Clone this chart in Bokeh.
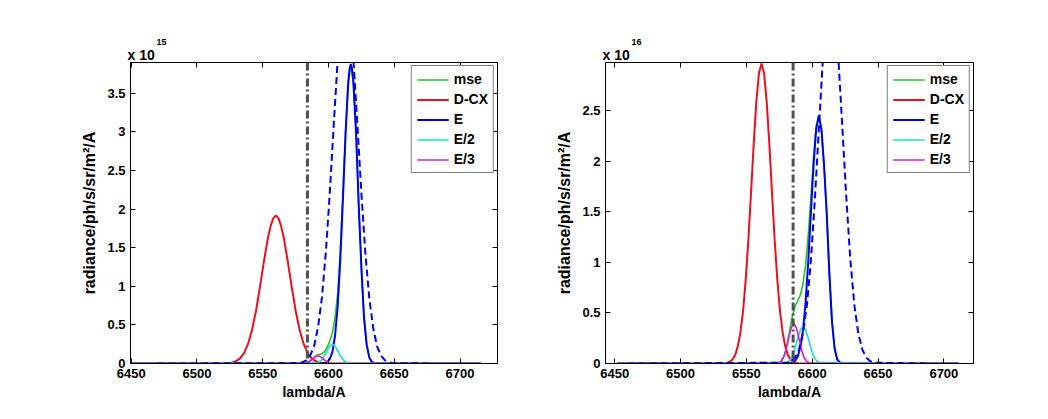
from bokeh.plotting import figure
from bokeh.models import Range1d, FixedTicker, LinearAxis, Legend, LegendItem, Span, Title
from bokeh.layouts import row
from bokeh.embed import file_html
from bokeh.resources import INLINE

# ---------------- data: left panel (x 10^15) ----------------
L_mse_lam = [6450, 6581, 6583, 6585, 6587, 6589, 6591, 6593, 6595, 6597, 6599, 6601, 6603, 6605,
             6607, 6609, 6611, 6613, 6615, 6617, 6619, 6621, 6623, 6625, 6627, 6629, 6631, 6633,
             6635, 6637, 6716]
L_mse = [0, 0.002, 0.008, 0.022, 0.046, 0.076, 0.104, 0.118, 0.127, 0.154, 0.208, 0.29, 0.40, 0.59,
         0.91, 1.45, 2.19, 3.00, 3.64, 3.88, 3.63, 2.98, 2.05, 1.25, 0.6, 0.25, 0.08, 0.02,
         0.005, 0.001, 0]
L_dcx_lam = [6450, 6521, 6524, 6527, 6530, 6533, 6536, 6539, 6542, 6545, 6548, 6551, 6554, 6556,
             6558, 6560, 6562, 6564, 6566, 6569, 6572, 6575, 6578, 6581, 6584, 6587, 6590, 6593,
             6596, 6599, 6716]
L_dcx = [0, 0.002, 0.005, 0.014, 0.032, 0.07, 0.14, 0.26, 0.44, 0.69, 1.00, 1.33, 1.63, 1.78,
         1.88, 1.92, 1.88, 1.78, 1.63, 1.33, 1.00, 0.69, 0.44, 0.26, 0.14, 0.07, 0.032, 0.014,
         0.005, 0.002, 0]
L_e_lam = [6450, 6595, 6597, 6599, 6601, 6603, 6605, 6607, 6609, 6611, 6613, 6615, 6616, 6617,
           6618, 6619, 6621, 6623, 6625, 6627, 6629, 6631, 6633, 6635, 6637, 6716]
L_e = [0, 0.001, 0.005, 0.018, 0.056, 0.15, 0.36, 0.74, 1.35, 2.14, 2.98, 3.63, 3.81, 3.88,
       3.81, 3.63, 2.98, 2.05, 1.25, 0.6, 0.25, 0.08, 0.02, 0.005, 0.001, 0]
L_e2_lam = [6450, 6591, 6593, 6595, 6597, 6599, 6601, 6603, 6605, 6607, 6609, 6611, 6613, 6615, 6716]
L_e2 = [0, 0.007, 0.021, 0.051, 0.103, 0.168, 0.226, 0.25, 0.226, 0.168, 0.103, 0.051, 0.021, 0.007, 0]
L_e3_lam = [6450, 6582, 6584, 6586, 6588, 6590, 6592, 6594, 6596, 6598, 6600, 6602, 6716]
L_e3 = [0, 0.004, 0.014, 0.032, 0.061, 0.088, 0.10, 0.088, 0.061, 0.032, 0.014, 0.004, 0]
L_tot_lam = [6470, 6577, 6580, 6583, 6586, 6589, 6592, 6595, 6598, 6601, 6604, 6607, 6610, 6613,
             6616, 6619, 6622, 6625, 6628, 6631, 6634, 6637, 6640, 6643, 6646, 6649, 6680]
L_tot = [0, 0.005, 0.015, 0.04, 0.10, 0.22, 0.46, 0.85, 1.44, 2.21, 3.09, 3.93, 4.54, 4.76,
         4.54, 3.93, 3.09, 2.21, 1.44, 0.85, 0.46, 0.22, 0.10, 0.04, 0.015, 0.005, 0]
L_ref = 6584.0

# ---------------- data: right panel (x 10^16) ----------------
R_mse_lam = [6452, 6575, 6577, 6579, 6581, 6583, 6585, 6587, 6589, 6591, 6593, 6595, 6597, 6599,
             6601, 6603, 6605, 6607, 6609, 6611, 6613, 6615, 6617, 6619, 6621, 6623, 6625, 6711]
R_mse = [0, 0.009, 0.032, 0.086, 0.194, 0.333, 0.474, 0.567, 0.622, 0.678, 0.786, 0.977, 1.27, 1.64,
         2.04, 2.35, 2.46, 2.32, 1.96, 1.49, 0.9, 0.42, 0.15, 0.04, 0.01, 0.003, 0.001, 0]
R_dcx_lam = [6452, 6533.5, 6535.5, 6537.5, 6539.5, 6541.5, 6543.5, 6545.5, 6547.5, 6549.5, 6551.5,
             6553.5, 6555.5, 6557.5, 6559.5, 6561.5, 6563.5, 6565.5, 6567.5, 6569.5, 6571.5,
             6573.5, 6575.5, 6577.5, 6579.5, 6581.5, 6583.5, 6585.5, 6587.5, 6589.5, 6711]
R_dcx = [0, 0.003, 0.007, 0.018, 0.040, 0.085, 0.17, 0.31, 0.52, 0.83, 1.22,
         1.68, 2.16, 2.58, 2.87, 2.97, 2.87, 2.58, 2.16, 1.68, 1.22,
         0.83, 0.52, 0.31, 0.17, 0.085, 0.040, 0.018, 0.007, 0.003, 0]
R_e_lam = [6452, 6583, 6585, 6587, 6589, 6591, 6593, 6595, 6597, 6599, 6601, 6603, 6605, 6607,
           6609, 6611, 6613, 6615, 6617, 6619, 6621, 6623, 6625, 6627, 6711]
R_e = [0, 0.003, 0.010, 0.027, 0.07, 0.16, 0.33, 0.61, 1.01, 1.49, 1.96, 2.32, 2.45, 2.32,
       1.96, 1.49, 0.9, 0.42, 0.15, 0.04, 0.01, 0.003, 0.001, 0, 0]
R_e2_lam = [6452, 6581, 6583, 6585, 6587, 6589, 6591, 6593, 6595, 6597, 6599, 6601, 6603, 6605, 6711]
R_e2 = [0, 0.011, 0.031, 0.076, 0.152, 0.25, 0.335, 0.37, 0.335, 0.25, 0.152, 0.076, 0.031, 0.011, 0]
R_e3_lam = [6452, 6574, 6576, 6578, 6580, 6582, 6584, 6586, 6588, 6590, 6592, 6594, 6596, 6598, 6711]
R_e3 = [0, 0.0045, 0.018, 0.054, 0.130, 0.245, 0.353, 0.40, 0.353, 0.245, 0.130, 0.054, 0.018, 0.0045, 0]
R_tot_lam = [6460, 6581, 6584, 6587, 6590, 6593, 6596, 6599, 6602, 6605, 6608, 6611, 6614, 6617,
             6620, 6623, 6626, 6629, 6632, 6635, 6638, 6641, 6644, 6647, 6690]
R_tot = [0, 0.008, 0.023, 0.059, 0.14, 0.30, 0.58, 1.02, 1.62, 2.31, 2.99, 3.48, 3.66, 3.48,
         2.99, 2.31, 1.62, 1.02, 0.58, 0.30, 0.14, 0.059, 0.023, 0.008, 0]
R_ref = 6585.5

x_ticks = [6450, 6500, 6550, 6600, 6650, 6700]
L_y_ticks = [0, 0.5, 1, 1.5, 2, 2.5, 3, 3.5]
R_y_ticks = [0, 0.5, 1, 1.5, 2, 2.5]
labels = ["mse", "D-CX", "E", "E/2", "E/3"]

FONT = "Liberation Sans"
COLORS = {"mse": "#1ec81e", "D-CX": "#e8101c", "E": "#0000f0", "E/2": "#10e0e0", "E/3": "#d81ad8"}


def fmt(v):
    return ("%g" % v)


def panel(width, bl, br, xr, yr, yticks, exponent, series, tot, ref):
    p = figure(width=width, height=419, output_backend="svg", toolbar_location=None,
               x_range=Range1d(*xr), y_range=Range1d(*yr),
               min_border_left=bl, min_border_right=br, min_border_top=62, min_border_bottom=56,
               x_axis_label="lambda/A", y_axis_label="radiance/ph/s/sr/m²/A")
    p.title.visible = False
    p.grid.visible = False
    p.outline_line_color = "black"
    p.background_fill_color = "white"
    p.border_fill_color = "white"

    p.xaxis.ticker = FixedTicker(ticks=x_ticks)
    p.yaxis.ticker = FixedTicker(ticks=yticks)
    p.yaxis.major_label_overrides = {t: fmt(t) for t in yticks}
    for ax in (p.xaxis, p.yaxis):
        ax.major_tick_in = 5
        ax.major_tick_out = 0
        ax.minor_tick_line_color = None
        ax.axis_line_color = "black"
        ax.major_label_text_font = FONT
        ax.major_label_text_font_style = "bold"
        ax.major_label_text_font_size = "13px"
        ax.major_label_text_color = "black"
        ax.axis_label_text_font = FONT
        ax.axis_label_text_font_style = "bold"
        ax.axis_label_text_color = "black"
    p.xaxis.axis_label_text_font_size = "14px"
    p.yaxis.axis_label_text_font_size = "16px"
    p.xaxis.major_label_standoff = 5
    p.yaxis.major_label_standoff = 5
    p.xaxis.axis_label_standoff = 3
    p.yaxis.axis_label_standoff = 6

    top = LinearAxis(ticker=FixedTicker(ticks=x_ticks), major_tick_in=5, major_tick_out=0,
                     minor_tick_line_color=None, major_label_standoff=0,
                     major_label_overrides={t: "" for t in x_ticks})
    right = LinearAxis(ticker=FixedTicker(ticks=yticks), major_tick_in=5, major_tick_out=0,
                       minor_tick_line_color=None, major_label_standoff=0,
                       major_label_overrides={t: "" for t in yticks})
    p.add_layout(top, "above")
    p.add_layout(right, "right")

    # "x 10^n" multiplier, with the exponent as a raised smaller text
    p.add_layout(Title(text="x 10", align="left", offset=-3, standoff=0,
                       text_font=FONT, text_font_style="bold", text_font_size="14px",
                       text_color="black"), "above")
    p.add_layout(Title(text=exponent, align="left", offset=26, standoff=0,
                       text_font=FONT, text_font_style="bold", text_font_size="9px",
                       text_color="black"), "above")

    items = []
    for name in labels:
        lam, val = series[name]
        lw = 2 if name in ("D-CX", "E") else 1.6
        r = p.line(lam, val, line_color=COLORS[name], line_width=lw)
        items.append(LegendItem(label=name, renderers=[r]))
    p.line(tot[0], tot[1], line_color=COLORS["E"], line_width=2, line_dash="7 4")
    p.add_layout(Span(location=ref, dimension="height", line_color="#505050",
                      line_width=3, line_dash="8 3 2 3"))

    leg = Legend(items=items, location="top_right", margin=3, padding=5, spacing=4,
                 label_height=15, glyph_height=15, glyph_width=32, label_standoff=5,
                 border_line_color="black", border_line_width=1,
                 background_fill_color="white", background_fill_alpha=1,
                 label_text_font=FONT, label_text_font_style="bold",
                 label_text_font_size="14px", label_text_color="black")
    p.add_layout(leg)
    return p


left = panel(524, 130, 27, (6449.5, 6728.5), (0, 3.9), L_y_ticks, "15",
             {"mse": (L_mse_lam, L_mse), "D-CX": (L_dcx_lam, L_dcx), "E": (L_e_lam, L_e),
              "E/2": (L_e2_lam, L_e2), "E/3": (L_e3_lam, L_e3)},
             (L_tot_lam, L_tot), L_ref)
right = panel(524, 81, 75, (6443, 6722.5), (0, 2.98), R_y_ticks, "16",
              {"mse": (R_mse_lam, R_mse), "D-CX": (R_dcx_lam, R_dcx), "E": (R_e_lam, R_e),
               "E/2": (R_e2_lam, R_e2), "E/3": (R_e3_lam, R_e3)},
              (R_tot_lam, R_tot), R_ref)

layout = row(left, right)
open("out.html", "w").write(file_html(layout, INLINE))
